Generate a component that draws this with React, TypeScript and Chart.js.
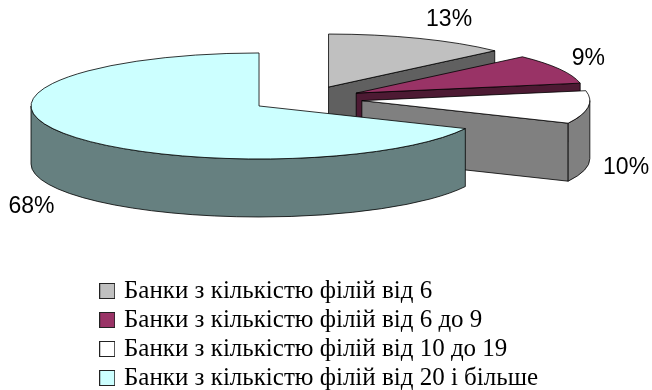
import { useEffect, useRef } from "react";
import { Chart, registerables } from "chart.js";

Chart.register(...registerables);

const categories = [
  "Банки з кількістю філій від 6",
  "Банки з кількістю філій від 6 до 9",
  "Банки з кількістю філій від 10 до 19",
  "Банки з кількістю філій від 20 і більше",
];
const shares = [13, 9, 10, 68];
const topColors = ["#C0C0C0", "#993366", "#FFFFFF", "#CCFFFF"];
const sideColors = ["#606060", "#4D1A33", "#808080", "#668080"];
// Distance of each percentage label from the middle of its slice's rim.
const labelShifts = [
  [30, -19],
  [29, -10],
  [38, 60],
  [-35, 72],
];

const TILT = 0.2325;
const DEPTH = 58;
const RADIUS = 228;
const EXPLODE = 56;
const PIE_X = 306.3;
const PIE_Y = 99;
const OUTLINE = 0.8;

type Wedge = { ax: number; ay: number; start: number; end: number; r: number };

function wedges(chart: Chart): Wedge[] {
  const { left, right, top, bottom } = chart.chartArea;
  const cx = (left + right) / 2;
  const cy = (top + bottom) / 2;
  return chart.getDatasetMeta(0).data.map((el: any) => ({
    ax: PIE_X + (el.x - cx),
    ay: PIE_Y + (el.y - cy) * TILT,
    start: el.startAngle,
    end: el.endAngle,
    r: el.outerRadius,
  }));
}

function radialFace(ctx: CanvasRenderingContext2D, w: Wedge, angle: number) {
  const x = w.ax + Math.cos(angle) * w.r;
  const y = w.ay + Math.sin(angle) * w.r * TILT;
  ctx.beginPath();
  ctx.moveTo(w.ax, w.ay);
  ctx.lineTo(x, y);
  ctx.lineTo(x, y + DEPTH);
  ctx.lineTo(w.ax, w.ay + DEPTH);
  ctx.closePath();
  ctx.fill();
  ctx.stroke();
}

function rimFace(ctx: CanvasRenderingContext2D, w: Wedge) {
  // Only the part of the rim on the front half of the ellipse can be seen.
  for (const turn of [0, Math.PI * 2]) {
    const a0 = Math.max(w.start, turn);
    const a1 = Math.min(w.end, turn + Math.PI);
    if (a1 <= a0) continue;
    ctx.beginPath();
    ctx.ellipse(w.ax, w.ay, w.r, w.r * TILT, 0, a0, a1);
    ctx.ellipse(w.ax, w.ay + DEPTH, w.r, w.r * TILT, 0, a1, a0, true);
    ctx.closePath();
    ctx.fill();
    ctx.stroke();
  }
}

function legendSwatch(color: string) {
  const swatch = document.createElement("canvas");
  swatch.width = 16;
  swatch.height = 16;
  const c = swatch.getContext("2d")!;
  c.fillStyle = color;
  c.fillRect(0.5, 0.5, 15, 15);
  c.strokeStyle = "#222";
  c.strokeRect(0.5, 0.5, 15, 15);
  return swatch;
}

const pie3d = {
  id: "pie3d",
  // Every slice is pulled out along its own middle angle.
  afterDatasetsUpdate(chart: Chart) {
    chart.getDatasetMeta(0).data.forEach((el: any) => {
      const mid = (el.startAngle + el.endAngle) / 2;
      el.x += Math.cos(mid) * EXPLODE;
      el.y += Math.sin(mid) * EXPLODE;
    });
  },
  beforeDatasetsDraw(chart: Chart) {
    const { ctx } = chart;
    ctx.save();
    ctx.strokeStyle = "#000";
    ctx.lineWidth = OUTLINE;
    ctx.lineJoin = "round";
    wedges(chart).forEach((w, i) => {
      ctx.fillStyle = sideColors[i];
      if (Math.cos(w.end) > 1e-6) radialFace(ctx, w, w.end);
      if (Math.cos(w.start) < -1e-6) radialFace(ctx, w, w.start);
      rimFace(ctx, w);
    });
    ctx.restore();

    // The library then paints the slices' top faces through this squash.
    const { left, right, top, bottom } = chart.chartArea;
    ctx.save();
    ctx.translate(PIE_X, PIE_Y);
    ctx.scale(1, TILT);
    ctx.translate(-(left + right) / 2, -(top + bottom) / 2);
  },
  afterDatasetsDraw(chart: Chart) {
    const { ctx } = chart;
    ctx.restore();
    ctx.save();
    ctx.strokeStyle = "#000";
    ctx.lineWidth = OUTLINE;
    ctx.lineJoin = "round";
    wedges(chart).forEach((w, i) => {
      ctx.beginPath();
      ctx.moveTo(w.ax, w.ay);
      ctx.ellipse(w.ax, w.ay, w.r, w.r * TILT, 0, w.start, w.end);
      ctx.closePath();
      ctx.stroke();

      const mid = (w.start + w.end) / 2;
      const lx = w.ax + Math.cos(mid) * w.r + labelShifts[i][0];
      const ly = w.ay + Math.sin(mid) * w.r * TILT + labelShifts[i][1];
      ctx.fillStyle = "#000";
      ctx.font = '23px "Liberation Sans", Arial, sans-serif';
      ctx.textAlign = "center";
      ctx.textBaseline = "middle";
      ctx.fillText(`${shares[i]}%`, lx, ly);
    });
    ctx.restore();
  },
};

export default function App() {
  const ref = useRef<HTMLCanvasElement>(null);

  useEffect(() => {
    const chart = new Chart(ref.current!, {
      type: "pie",
      data: {
        labels: categories,
        datasets: [
          {
            data: shares,
            backgroundColor: topColors,
            borderWidth: 0,
            clip: false,
          } as any,
        ],
      },
      options: {
        responsive: false,
        animation: false,
        events: [],
        radius: RADIUS,
        cutout: "0%",
        layout: { padding: { left: 98.9, top: 274.5, bottom: -20 } },
        plugins: {
          tooltip: { enabled: false },
          legend: {
            position: "left",
            align: "start",
            maxWidth: 520,
            labels: {
              usePointStyle: true,
              pointStyleWidth: 8.6,
              boxHeight: 15,
              padding: 4,
              color: "#000",
              font: { family: '"Liberation Serif", "Times New Roman", serif', size: 25 },
              generateLabels: () =>
                categories.map((text, i) => ({
                  text,
                  pointStyle: legendSwatch(topColors[i]),
                  fillStyle: topColors[i],
                  strokeStyle: "#000",
                  lineWidth: 1,
                  index: i,
                  hidden: false,
                })),
            },
          },
        },
      } as any,
      plugins: [pie3d],
    });
    return () => chart.destroy();
  }, []);

  return (
    <div style={{ position: "fixed", left: 0, top: 0, width: 652, height: 390, background: "#fff" }}>
      <canvas ref={ref} width={652} height={390} style={{ display: "block" }} />
    </div>
  );
}
